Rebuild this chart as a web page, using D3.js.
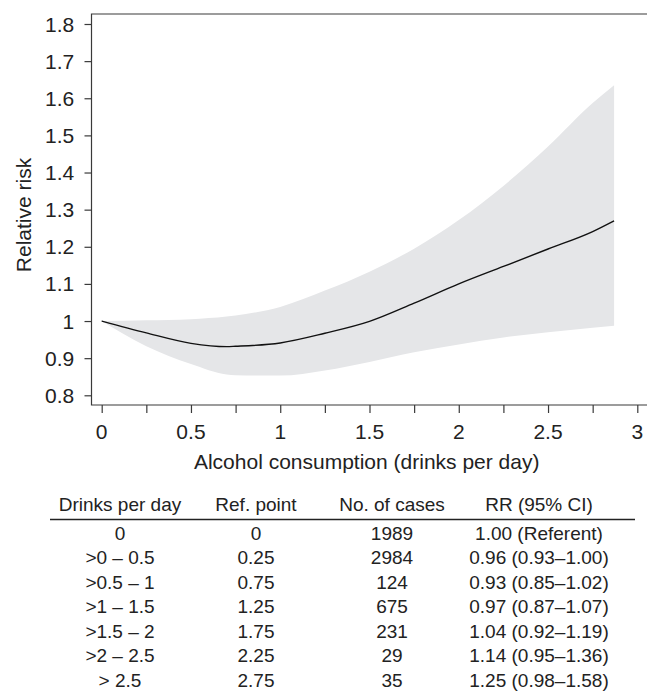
<!DOCTYPE html>
<html><head><meta charset="utf-8">
<script src="https://cdn.jsdelivr.net/npm/d3@7"></script>
<style>
body{margin:0;background:#fff}
svg{display:block}
text{font-family:"Liberation Sans",Arial,Helvetica,sans-serif;fill:#222}
</style>
</head><body>
<svg id="c" width="647" height="691"></svg>
<script>
// ---- data ----
const doseX     = [0, 0.25, 0.5, 0.7, 0.75, 1.0, 1.25, 1.5, 1.75, 2.0, 2.25, 2.5, 2.75, 2.87];
const rrCentral = [1.000, 0.968, 0.940, 0.931, 0.932, 0.941, 0.967, 0.999, 1.048, 1.100, 1.147, 1.194, 1.241, 1.270];
const ciLower   = [1.000, 0.932, 0.884, 0.856, 0.854, 0.853, 0.867, 0.890, 0.916, 0.937, 0.956, 0.970, 0.982, 0.987];
const ciUpper   = [1.000, 1.002, 1.005, 1.012, 1.015, 1.038, 1.082, 1.133, 1.195, 1.272, 1.364, 1.470, 1.587, 1.635];

const yTickValues = [0.8, 0.9, 1.0, 1.1, 1.2, 1.3, 1.4, 1.5, 1.6, 1.7, 1.8];
const yTickLabels = ["0.8", "0.9", "1", "1.1", "1.2", "1.3", "1.4", "1.5", "1.6", "1.7", "1.8"];
const xTickValues = [0, 0.25, 0.5, 0.75, 1, 1.25, 1.5, 1.75, 2, 2.25, 2.5, 2.75, 3];
const xLabelValues = [0, 0.5, 1, 1.5, 2, 2.5, 3];
const xTickLabels = ["0", "0.5", "1", "1.5", "2", "2.5", "3"];

const xTitle = "Alcohol consumption (drinks per day)";
const yTitle = "Relative risk";

const tableHeaders = ["Drinks per day", "Ref. point", "No. of cases", "RR (95% CI)"];
const drinksPerDay = ["0", ">0 \u2013 0.5", ">0.5 \u2013 1", ">1 \u2013 1.5", ">1.5 \u2013 2", ">2 \u2013 2.5", "> 2.5"];
const refPoints    = ["0", "0.25", "0.75", "1.25", "1.75", "2.25", "2.75"];
const numCases     = ["1989", "2984", "124", "675", "231", "29", "35"];
const rrCI         = ["1.00 (Referent)", "0.96 (0.93\u20131.00)", "0.93 (0.85\u20131.02)", "0.97 (0.87\u20131.07)",
                      "1.04 (0.92\u20131.19)", "1.14 (0.95\u20131.36)", "1.25 (0.98\u20131.58)"];

// ---- layout ----
const TICK_FS = 20, TICK_SX = 1.05, TITLE_FS = 21, TABLE_FS = 19;
const axisColor = "#3a3a3a";
const svg = d3.select("#c");

const x = d3.scaleLinear().domain([0, 3]).range([101.7, 637.3]);
const y = d3.scaleLinear().domain([0.8, 1.8]).range([395.3, 24]);
const frameL = 91.5, frameT = 14, frameB = 405, frameR = 647;

function stretch(sel, sx) {
  sel.each(function () {
    const t = d3.select(this);
    const tx = +t.attr("x") || 0, ty = +t.attr("y") || 0;
    t.attr("x", 0).attr("y", 0).attr("transform", `translate(${tx},${ty}) scale(${sx},1)`);
  });
}

// band
const pts = doseX.map((d, i) => ({ x: d, c: rrCentral[i], lo: ciLower[i], hi: ciUpper[i] }));
svg.append("path")
  .datum(pts)
  .attr("fill", "#e5e6e8")
  .attr("d", d3.area().x(d => x(d.x)).y0(d => y(d.lo)).y1(d => y(d.hi)).curve(d3.curveMonotoneX));

svg.append("path")
  .datum(pts)
  .attr("fill", "none")
  .attr("stroke", "#111")
  .attr("stroke-width", 1.4)
  .attr("d", d3.line().x(d => x(d.x)).y(d => y(d.c)).curve(d3.curveMonotoneX));

// frame lines (left, top, bottom)
svg.append("path")
  .attr("fill", "none")
  .attr("stroke", axisColor)
  .attr("stroke-width", 1.2)
  .attr("d", `M${frameR},${frameT}H${frameL}V${frameB}H${frameR}`);

// y axis
const yAxis = svg.append("g")
  .attr("transform", `translate(${frameL},0)`)
  .call(d3.axisLeft(y).tickValues(yTickValues).tickSize(7).tickPadding(0)
    .tickFormat((d, i) => yTickLabels[i]));
yAxis.select(".domain").remove();
yAxis.attr("font-family", null).attr("font-size", null);
yAxis.selectAll(".tick line").attr("stroke", axisColor).attr("stroke-width", 1.2);
yAxis.selectAll(".tick text")
  .attr("x", -17.2)
  .attr("dy", "0.35em")
  .attr("fill", null)
  .style("font-size", TICK_FS + "px");
stretch(yAxis.selectAll(".tick text"), TICK_SX);

// x axis ticks
const xAxis = svg.append("g")
  .attr("transform", `translate(0,${frameB})`)
  .call(d3.axisBottom(x).tickValues(xTickValues).tickSize(8).tickFormat(""));
xAxis.select(".domain").remove();
xAxis.attr("font-family", null).attr("font-size", null);
xAxis.selectAll(".tick line").attr("stroke", axisColor).attr("stroke-width", 1.2);

const xl = svg.append("g").selectAll("text")
  .data(xLabelValues)
  .join("text")
  .attr("x", d => x(d))
  .attr("y", 439)
  .attr("text-anchor", "middle")
  .style("font-size", TICK_FS + "px")
  .text((d, i) => xTickLabels[i]);
stretch(xl, TICK_SX);

// axis titles
svg.append("text")
  .attr("x", 366.7)
  .attr("y", 469)
  .attr("text-anchor", "middle")
  .style("font-size", TITLE_FS + "px")
  .text(xTitle);

svg.append("text")
  .attr("transform", "translate(30.5,215) rotate(-90)")
  .attr("text-anchor", "middle")
  .style("font-size", TITLE_FS + "px")
  .text(yTitle);

// table
const colX = [120, 256, 392, 539];
const headerY = 511;
const rowY = d3.scaleLinear().domain([0, 6]).range([540, 686.7]);

svg.append("g").selectAll("text")
  .data(tableHeaders)
  .join("text")
  .attr("x", (d, i) => colX[i])
  .attr("y", headerY)
  .attr("text-anchor", "middle")
  .style("font-size", TABLE_FS + "px")
  .text(d => d);

svg.append("line")
  .attr("x1", 50).attr("x2", 635)
  .attr("y1", 519.5).attr("y2", 519.5)
  .attr("stroke", "#222")
  .attr("stroke-width", 1.4);

const columns = [drinksPerDay, refPoints, numCases, rrCI];
columns.forEach((col, ci) => {
  svg.append("g").selectAll("text")
    .data(col)
    .join("text")
    .attr("x", colX[ci])
    .attr("y", (d, i) => rowY(i))
    .attr("text-anchor", "middle")
    .style("font-size", TABLE_FS + "px")
    .text(d => d);
});
</script>
</body></html>
